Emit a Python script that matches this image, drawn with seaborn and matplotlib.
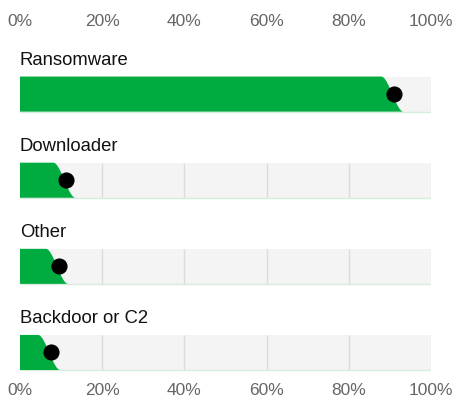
import numpy as np
import pandas as pd
import matplotlib
matplotlib.use("Agg")
import matplotlib.pyplot as plt
import seaborn as sns

# Share of incidents by malware type (percent)
categories = ["Ransomware", "Downloader", "Other", "Backdoor or C2"]
shares = [91.0, 11.2, 9.4, 7.5]
tick_values = [0, 20, 40, 60, 80, 100]
tick_labels = ["0%", "20%", "40%", "60%", "80%", "100%"]

GREEN = "#00AC3F"
TRACK = "#F4F4F4"
GRID = "#DCDCDC"

sns.set_theme(style="white")
plt.rcParams["font.family"] = ["Liberation Sans", "DejaVu Sans"]

W, H = 456, 398
fig = plt.figure(figsize=(W / 100, H / 100), dpi=100)
ax = fig.add_axes([20 / W, 1 - 372 / H, (431 - 20) / W, (372 - 40) / H])

df = pd.DataFrame({
    "category": categories,
    "share": shares,
    "full": [100] * len(categories),
    "row": np.arange(len(categories)),
})

bar_h = 35 / 86

# grey background tracks spanning 0-100%
sns.barplot(data=df, y="category", x="full", color=TRACK, width=bar_h,
            orient="h", saturation=1, linewidth=0, ax=ax, zorder=1)

for i, v in enumerate(df["share"]):
    top, bottom = i - bar_h / 2, i + bar_h / 2
    # light vertical guides inside each track
    ax.vlines(tick_values[1:-1], top, bottom, color=GRID, lw=1, zorder=2)
    ax.vlines(100, top, bottom, color="#E6E6E6", lw=1, zorder=2)
    ax.hlines(bottom, 0, 100, color="#D6EEDD", lw=1, zorder=2)

    # green fill with a smooth S-shaped leading edge around the value
    w = 2.7
    c = v - 0.4
    s = np.linspace(0, 1, 80)
    ex = c - w + 2 * w * s
    ey = top + (bottom - top) * (3 * s ** 2 - 2 * s ** 3)
    px = np.concatenate([[0], ex, [0]])
    py = np.concatenate([[top], ey, [bottom]])
    ax.fill(px, py, color=GREEN, lw=0, zorder=3)

    # category label above the track
    ax.text(0, top - 12 / 86, df["category"][i], ha="left", va="baseline",
            fontsize=13.3, color="#111111", zorder=5)

sns.scatterplot(data=df, x="share", y="row", color="black", s=135,
                linewidth=0, ax=ax, zorder=4, legend=False)

ax.set_xlim(0, 100)
ax.set_ylim(3 + (372 - 352.5) / 86, (40 - 94) / 86)
ax.set_xticks(tick_values)
ax.set_xticklabels(tick_labels)
ax.set_yticks([])
ax.set_xlabel("")
ax.set_ylabel("")
ax.tick_params(axis="x", length=0, labelsize=12.5, labelcolor="#666666",
               labeltop=True, labelbottom=True, top=False, bottom=False, pad=8)
for sp in ax.spines.values():
    sp.set_visible(False)
ax.patch.set_alpha(0)

fig.savefig("out.png", dpi=100)
